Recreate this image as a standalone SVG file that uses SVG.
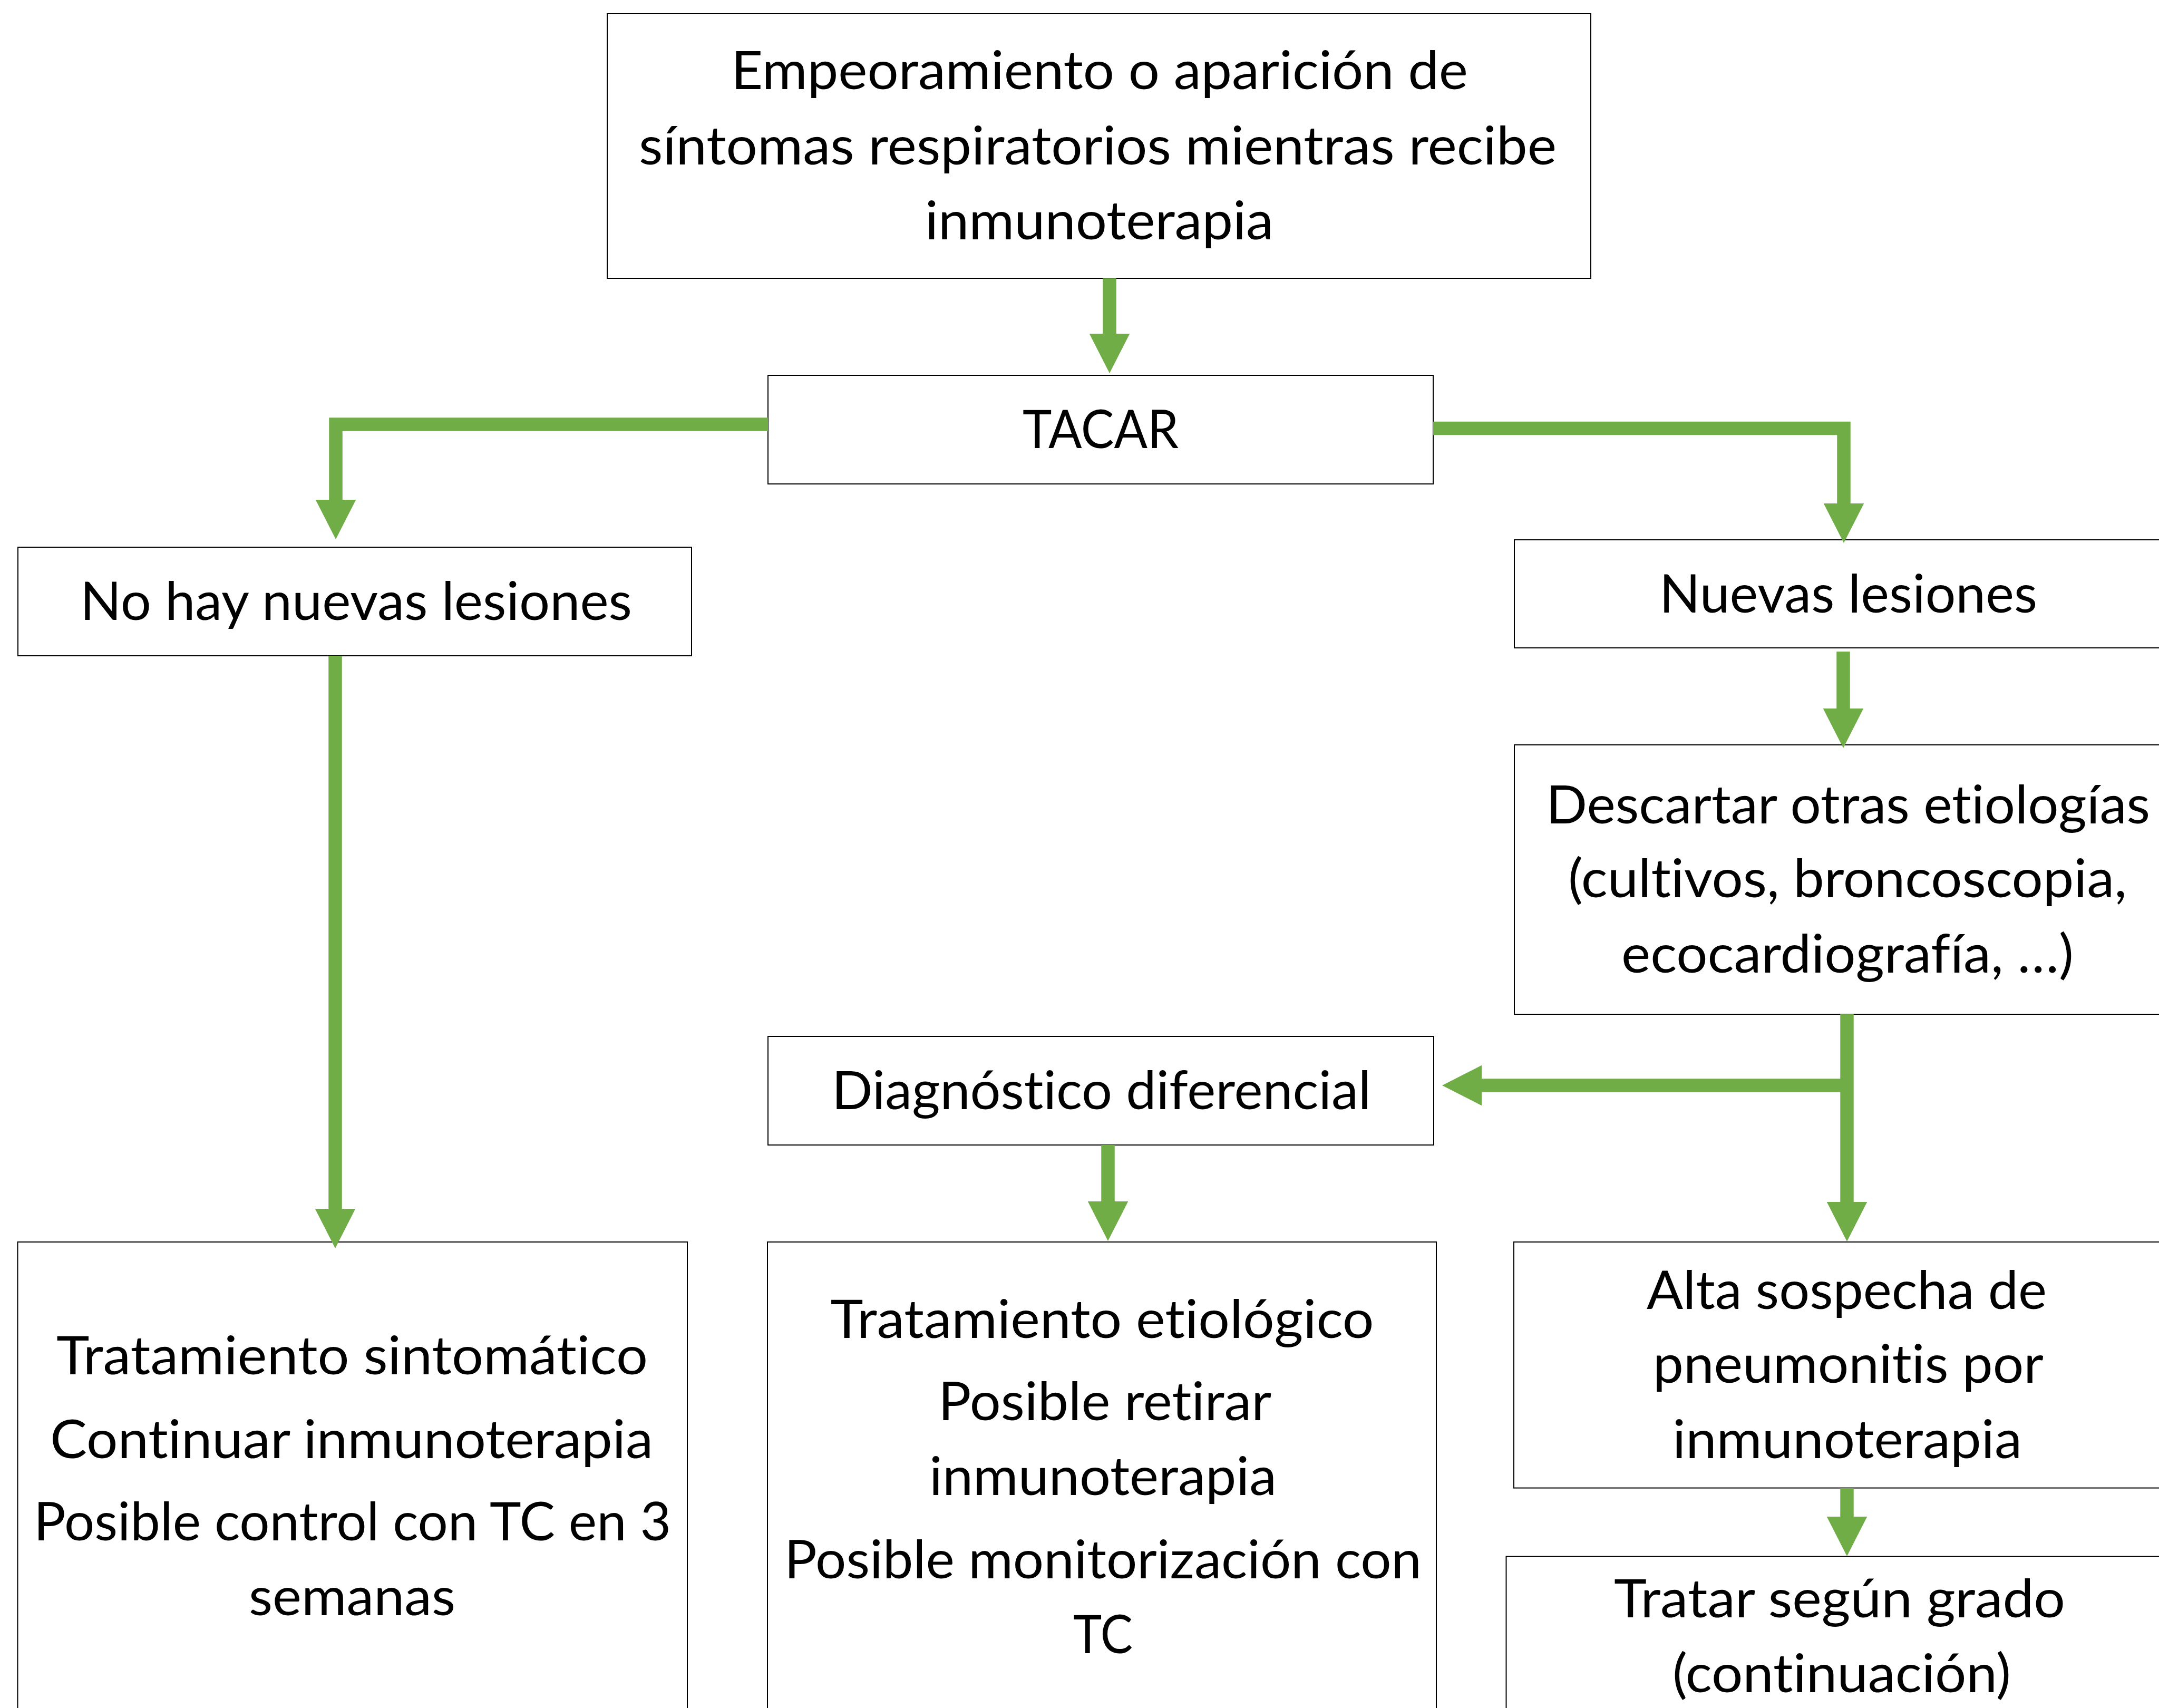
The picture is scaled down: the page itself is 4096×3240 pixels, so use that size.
<svg xmlns="http://www.w3.org/2000/svg" width="4096" height="3240" viewBox="0 0 4096 3240">
<style>
.box{fill:#ffffff;stroke:#000000;stroke-width:2}
.t{font-family:Lato,"Open Sans","Liberation Sans",sans-serif;font-size:100px;fill:#000000;font-variant-ligatures:none;font-feature-settings:"liga" 0,"clig" 0,"dlig" 0}
.c{fill:none;stroke:#70AD47;stroke-width:25.5;stroke-linejoin:miter;stroke-linecap:butt;marker-end:url(#ah)}
</style>
<defs>
<marker id="ah" viewBox="0 0 10 10" refX="0" refY="5" markerWidth="2.94" markerHeight="3" orient="auto" markerUnits="strokeWidth" preserveAspectRatio="none">
<path d="M0,0 L10,5 L0,10 Z" fill="#70AD47"/>
</marker>
</defs>
<rect width="4096" height="3240" fill="#ffffff"/>
<g id="n-top">
<rect class="box" x="1152" y="26" width="1866" height="502"/>
<text class="t" x="1387" y="169" textLength="1398" lengthAdjust="spacingAndGlyphs">Empeoramiento o aparición de</text>
<text class="t" x="1212" y="312" textLength="1741" lengthAdjust="spacingAndGlyphs">síntomas respiratorios mientras recibe</text>
<text class="t" x="1755" y="454" textLength="661" lengthAdjust="spacingAndGlyphs">inmunoterapia</text>
</g>
<g id="n-tacar">
<rect class="box" x="1457" y="712" width="1262" height="206"/>
<text class="t" x="1940" y="850" textLength="296" lengthAdjust="spacingAndGlyphs">TACAR</text>
</g>
<g id="n-nohay">
<rect class="box" x="34" y="1038" width="1278" height="206"/>
<text class="t" x="152" y="1176" textLength="1047" lengthAdjust="spacingAndGlyphs">No hay nuevas lesiones</text>
</g>
<g id="n-nuevas">
<rect class="box" x="2873" y="1024" width="1264" height="205"/>
<text class="t" x="3148" y="1162" textLength="717" lengthAdjust="spacingAndGlyphs">Nuevas lesiones</text>
</g>
<g id="n-descartar">
<rect class="box" x="2873" y="1413" width="1264" height="511"/>
<text class="t" x="2933" y="1562" textLength="1146" lengthAdjust="spacingAndGlyphs">Descartar otras etiologías</text>
<text class="t" x="2975" y="1702" textLength="1060" lengthAdjust="spacingAndGlyphs">(cultivos, broncoscopia,</text>
<text class="t" x="3076" y="1845" textLength="858" lengthAdjust="spacingAndGlyphs">ecocardiografía, …)</text>
</g>
<g id="n-diag">
<rect class="box" x="1457" y="1966" width="1263" height="206"/>
<text class="t" x="1578" y="2104" textLength="1023" lengthAdjust="spacingAndGlyphs">Diagnóstico diferencial</text>
</g>
<g id="n-sint">
<rect class="box" x="33.5" y="2356" width="1270.5" height="920"/>
<text class="t" x="107" y="2607" textLength="1122" lengthAdjust="spacingAndGlyphs">Tratamiento sintomático</text>
<text class="t" x="95" y="2766" textLength="1144" lengthAdjust="spacingAndGlyphs">Continuar inmunoterapia</text>
<text class="t" x="64" y="2922" textLength="1209" lengthAdjust="spacingAndGlyphs">Posible control con TC en 3</text>
<text class="t" x="472" y="3064" textLength="392" lengthAdjust="spacingAndGlyphs">semanas</text>
</g>
<g id="n-etiol">
<rect class="box" x="1456" y="2356" width="1269" height="920"/>
<text class="t" x="1575.5" y="2538" textLength="1031" lengthAdjust="spacingAndGlyphs">Tratamiento etiológico</text>
<text class="t" x="1780" y="2694" textLength="632" lengthAdjust="spacingAndGlyphs">Posible retirar</text>
<text class="t" x="1763" y="2836" textLength="659" lengthAdjust="spacingAndGlyphs">inmunoterapia</text>
<text class="t" x="1488" y="2994" textLength="1209" lengthAdjust="spacingAndGlyphs">Posible monitorización con</text>
<text class="t" x="2036" y="3136" textLength="113" lengthAdjust="spacingAndGlyphs">TC</text>
</g>
<g id="n-alta">
<rect class="box" x="2872" y="2356" width="1264" height="466.6"/>
<text class="t" x="3124" y="2483" textLength="759" lengthAdjust="spacingAndGlyphs">Alta sospecha de</text>
<text class="t" x="3136" y="2623" textLength="741" lengthAdjust="spacingAndGlyphs">pneumonitis por</text>
<text class="t" x="3173" y="2766" textLength="663" lengthAdjust="spacingAndGlyphs">inmunoterapia</text>
</g>
<g id="n-tratar">
<rect class="box" x="2857.5" y="2952.6" width="1265" height="400"/>
<text class="t" x="3062" y="3068" textLength="856" lengthAdjust="spacingAndGlyphs">Tratar según grado</text>
<text class="t" x="3173" y="3210" textLength="642" lengthAdjust="spacingAndGlyphs">(continuación)</text>
</g>
<g id="connectors">
<path class="c" d="M2105,528 V633"/>
<path class="c" d="M1457,805 H637 V948"/>
<path class="c" d="M2719,812.6 H3498 V955"/>
<path class="c" d="M636,1244 V2293"/>
<path class="c" d="M3497,1236 V1344"/>
<path class="c" d="M3504,1924 V2280"/>
<path class="c" d="M3516,2059 H2811"/>
<path class="c" d="M2102,2172 V2279"/>
<path class="c" d="M3504,2823 V2877"/>
</g>
</svg>
